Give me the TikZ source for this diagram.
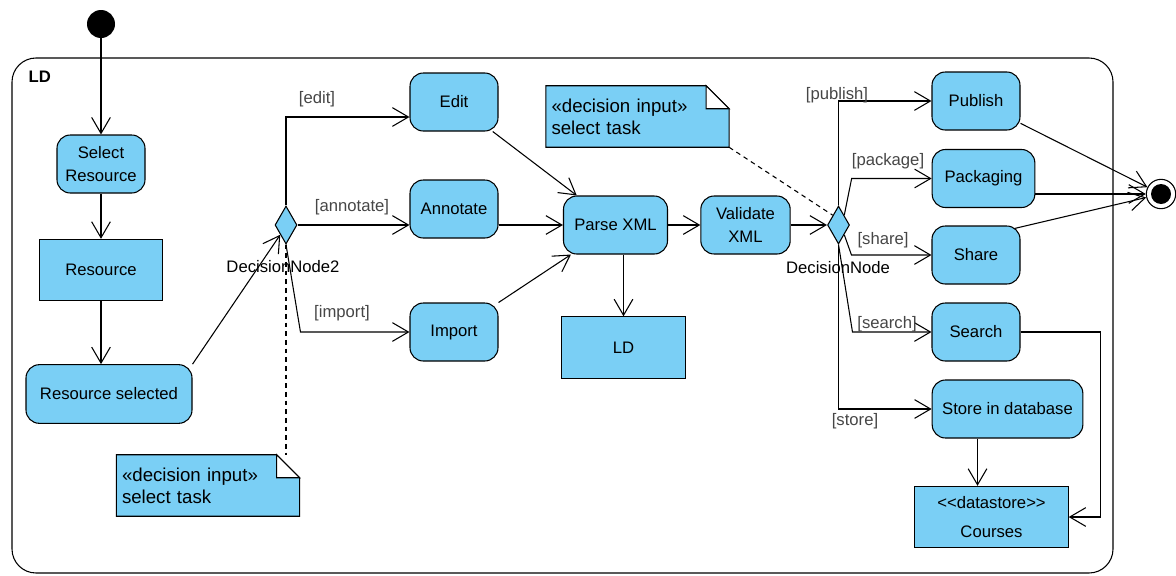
\documentclass[tikz,border=0pt]{standalone}
\usepackage{fontspec}
\setmainfont{Liberation Sans}
\usepackage{tikz}
\usetikzlibrary{arrows.meta,calc,shapes.geometric,backgrounds}
\definecolor{ActionBlue}{RGB}{122,207,245}
\definecolor{GuardGrey}{RGB}{70,70,70}

\begin{document}
\begin{tikzpicture}[x=0.75pt,y=0.75pt,yscale=-1,xscale=1,
  every node/.style={font=\fontsize{12.5}{17}\selectfont},
  action/.style={draw, fill=ActionBlue, rounded corners=10pt, minimum height=43.5pt, align=center, inner sep=2pt, line width=0.8pt},
  objbox/.style={draw, fill=ActionBlue, minimum height=46pt, align=center, line width=0.8pt},
  decision/.style={draw, fill=ActionBlue, diamond, minimum width=16.5pt, minimum height=28.5pt, inner sep=0pt, line width=0.8pt},
  notebox/.style={minimum width=137pt, minimum height=45.75pt, text width=129pt, inner xsep=4pt, align=left, font=\fontsize{14}{16.5}\selectfont},
  notefill/.style={draw, fill=ActionBlue, line width=0.8pt},
  guard/.style={text=GuardGrey, inner sep=1pt},
  flow/.style={-{Straight Barb[length=12pt,width=14pt]}, line width=0.8pt},
  noteline/.style={line width=0.8pt, dash pattern=on 3.5pt off 3pt},
]
\useasboundingbox (0,0) rectangle (1176,575);

%Activity frame
\draw [line width=0.8pt, rounded corners=18pt] (12,58) rectangle (1113,573);
\node [anchor=west, font=\fontsize{12.5}{15}\bfseries] (ldTitle) at (24,77) {LD};

%Initial and final nodes
\node [circle, fill=black, minimum size=21pt, inner sep=0pt] (init) at (101,24) {};
\node [circle, draw, fill=white, line width=0.8pt, minimum size=22pt, inner sep=0pt] (final) at (1161,194) {};
\node [circle, fill=black, minimum size=15pt, inner sep=0pt] (finalDot) at (final) {};

%Left column
\node [action, minimum width=66pt] (selRes) at (101,164) {Select\\Resource};
\node [objbox, minimum width=92pt] (res) at (101,270) {Resource};
\node [action, minimum width=124.5pt, minimum height=44pt] (resSel) at (109,394) {Resource selected};

%Task choice
\node [decision] (dn2) at (286,225) {};
\node (dn2Label) at (283,267) {DecisionNode2};
\node [action, minimum width=66pt] (edit) at (454,102) {Edit};
\node [action, minimum width=66pt] (annotate) at (454,209) {Annotate};
\node [action, minimum width=66pt] (import) at (454,332) {Import};

%XML handling
\node [action, minimum width=78pt] (parse) at (615.5,225) {Parse XML};
\node [objbox, minimum width=92.5pt] (ldObj) at (623.5,347.5) {LD};
\node [action, minimum width=67pt] (validate) at (745.5,225) {Validate\\XML};

%Output choice
\node [decision] (dn) at (838.5,225) {};
\node (dnLabel) at (838,268) {DecisionNode};
\node [action, minimum width=66pt] (publish) at (976,101) {Publish};
\node [action, minimum width=77pt] (packaging) at (983.5,178.5) {Packaging};
\node [action, minimum width=66pt] (share) at (976,255) {Share};
\node [action, minimum width=66pt] (search) at (976,332) {Search};
\node [action, minimum width=113pt] (store) at (1007.5,409) {Store in database};
\node [objbox, minimum width=115pt] (courses) at (991.5,517) {\mbox{<}\mbox{<}datastore\mbox{>}\mbox{>}\\[5pt]Courses};
\coordinate (storeOut) at ($(store.south)+(-30,0)$);

%Notes
\node [notebox] (note1) at (637.5,116.5) {«decision input»\\select task};
\node [notebox] (note2) at (208,485.5) {«decision input»\\select task};
\begin{scope}[on background layer]
\foreach \n in {note1,note2}{
  \draw [notefill] (\n.north west) -- ($(\n.north east)+(-23,0)$) -- ($(\n.north east)+(0,23)$) -- (\n.south east) -- (\n.south west) -- cycle;
  \draw [line width=0.8pt, fill=white] ($(\n.north east)+(-23,0)$) -- ($(\n.north east)+(-23,23)$) -- ($(\n.north east)+(0,23)$) -- cycle;
}
\end{scope}

%Control flows
\draw [flow] (init) -- (selRes);
\draw [flow] (selRes) -- (res);
\draw [flow] (res.south) -- (res.south |- resSel.north);
\draw [flow] (resSel.north east) -- (dn2.south west);
\draw [flow] (dn2.north) |- ($(edit.west)+(0,15)$);
\draw [flow] (dn2.east) -- (dn2.east -| annotate.west);
\draw [flow] (dn2.south) -- ($(import.west)+(-109,0)$) -- (import.west);
\draw [flow] (edit) -- (parse);
\draw [flow] (annotate.east |- parse.west) -- (parse.west);
\draw [flow] (import) -- (parse);
\draw [flow] (parse.south -| ldObj.north) -- (ldObj.north);
\draw [flow] (parse) -- (validate);
\draw [flow] (validate) -- (dn.west);
\draw [flow] (dn.north) |- (publish.west);
\draw [flow] (dn.north east) -- ($(packaging.west)+(-80,0)$) -- (packaging.west);
\draw [flow] (dn.south east) -- ($(share.west)+(-80,0)$) -- (share.west);
\draw [flow] (dn.south) -- ($(search.west)+(-79,0)$) -- (search.west);
\draw [flow] (dn.south) |- (store.west);
\draw [flow] (publish) -- (final);
\draw [flow] (packaging.east |- final.center) -- (final);
\draw [flow] ($(share.north east)+(-6,3)$) -- (final);
\draw [flow] (search.east) -| ($(courses.east)+(32,0)$) -- (courses.east);
\draw [flow] (storeOut) -- (storeOut |- courses.north);

%Note links
\draw [noteline] (dn2.south) -- (dn2.south |- note2.north);
\draw [noteline] (note1.south east) -- (dn.north west);

% Guard labels
\node [guard] (gEdit) at (317,99) {[edit]};
\node [guard] (gAnnotate) at (352,207) {[annotate]};
\node [guard] (gImport) at (342,313) {[import]};
\node [guard] (gPublish) at (837,95) {[publish]};
\node [guard] (gPackage) at (888,161) {[package]};
\node [guard] (gShare) at (883,240) {[share]};
\node [guard] (gSearch) at (887,324) {[search]};
\node [guard] (gStore) at (855,421) {[store]};

\end{tikzpicture}
\end{document}
